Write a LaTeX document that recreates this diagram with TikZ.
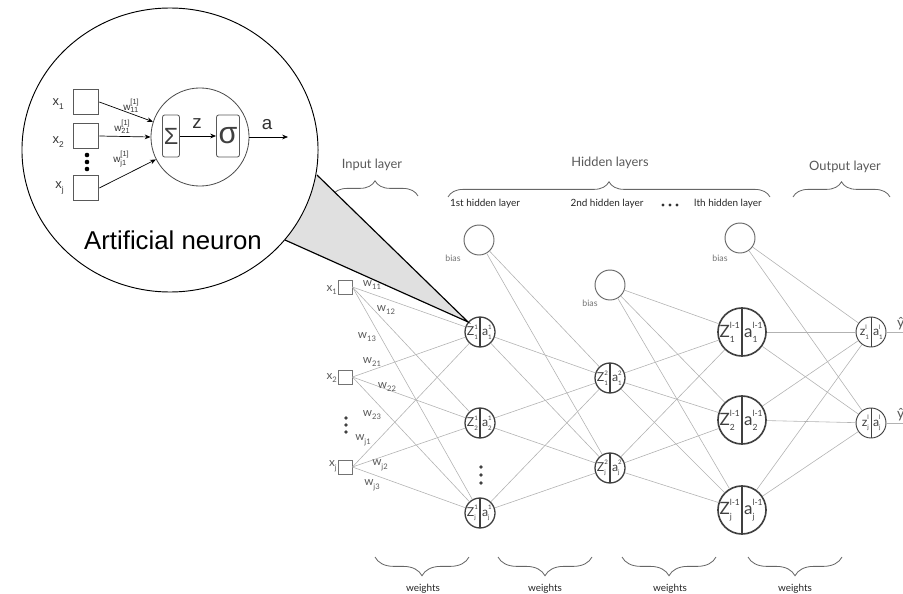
\documentclass[tikz,border=0pt]{standalone}
\usepackage{fontspec}
\setmainfont{Lato}
\newfontfamily\arialfont{Liberation Sans}
\usetikzlibrary{arrows.meta,decorations.pathreplacing,shapes.geometric}
\makeatletter
\def\scrk{0.5}
\newcommand{\scrfont}{\fontsize{\fpeval{\scrk*\f@size}}{0}\selectfont}
\makeatother
% stacked super/subscript
\newcommand{\scr}[2]{\ooalign{\raisebox{.55em}{\scrfont #1}\cr\raisebox{-.27em}{\scrfont #2}}}
% z part | a part, split at the node centre
\newcommand{\za}[5]{\makebox[0pt][r]{#1\scr{#2}{#3}\hspace{1.8pt}}\makebox[0pt][l]{\hspace{1.8pt}a\scr{#4}{#5}}}

\begin{document}
\begin{tikzpicture}[x=0.03cm, y=-0.03cm,
  wire/.style={draw=black!30, line width=0.5pt},
  unit/.style={circle, draw=black!75, line width=1.1pt, minimum size=25.6pt, inner sep=0pt,
    text=black!75, font=\fontsize{10.5}{10.5}\selectfont,
    path picture={\draw (path picture bounding box.north) -- (path picture bounding box.south);}},
  bigunit/.style={unit, line width=1.4pt, minimum size=41pt, font=\fontsize{14.5}{14.5}\selectfont},
  outunit/.style={unit, line width=0.8pt},
  bias/.style={circle, draw=black!60, line width=0.8pt, minimum size=25.6pt, inner sep=0pt},
  inbox/.style={draw=black!55, line width=0.7pt, minimum size=12pt, inner sep=0pt},
  lbl/.style={text=black!65, font=\def\scrk{0.65}\fontsize{10}{10}\selectfont, inner sep=0pt},
  biaslbl/.style={text=black!55, font=\fontsize{7.5}{7.5}\selectfont, inner sep=0pt},
  layer/.style={text=black!65, font=\fontsize{11}{11}\selectfont, inner sep=0pt},
  sublayer/.style={text=black!85, font=\fontsize{8.5}{8.5}\selectfont, inner sep=0pt},
  brc/.style={draw=black!60, line width=0.7pt, decorate, decoration={brace, amplitude=13pt}},
  lowbrc/.style={brc, decoration={brace, amplitude=16pt}},
  insq/.style={draw=black!65, line width=0.7pt, minimum size=22pt, inner sep=0pt},
  opbox/.style={draw=black!65, rounded corners=2pt, line width=0.7pt, minimum width=14.5pt, minimum height=36pt, inner sep=0pt},
  ilbl/.style={font=\def\scrk{0.65}\arialfont\fontsize{11}{11}\selectfont, text=black!80, inner sep=0pt},
  wlbl/.style={font=\def\scrk{0.75}\arialfont\fontsize{8.5}{8.5}\selectfont, text=black!80, inner sep=0pt},
  link/.style={-{Stealth[length=5pt,width=4pt]}, line width=0.6pt}]
\useasboundingbox (0,0) rectangle (903,594);

% layer titles
\node[layer] (inputt) at (372,165) {Input layer};
\node[layer] (hiddent) at (610,163) {Hidden layers};
\node[layer] (outputt) at (845,167) {Output layer};
\node[sublayer] (h1t) at (485,204) {1st hidden layer};
\node[sublayer] (h2t) at (607,204) {2nd hidden layer};
\node[sublayer] (hlt) at (728,204) {lth hidden layer};
\foreach \x in {663,670,677} \fill[black!80] (\x,205) circle (1.6);

\draw[brc] (332,196) -- (418,196);
\draw[brc] (448,197) -- (770,197);
\draw[brc] (793,197) -- (890,197);

% input layer
\node[inbox] (x1) at (345,287) {};
\node[inbox] (x2) at (345,377) {};
\node[inbox] (xj) at (345,467) {};
\node[lbl, anchor=east] (x1t) at (337,290) {x\scr{}{1}};
\node[lbl, anchor=east] (x2t) at (337,378) {x\scr{}{2}};
\node[lbl, anchor=east] (xjt) at (337,466) {x\scr{}{j}};
\foreach \y in {418,425,432} \fill[black!75] (346,\y) circle (1.8);

% hidden and output units
\node[unit] (h11) at (480,332) {\za{Z}{1}{1}{1}{1}};
\node[unit] (h21) at (480,423) {\za{Z}{1}{2}{1}{2}};
\node[unit] (hj1) at (480,513) {\za{Z}{1}{j}{1}{j}};
\foreach \y in {467,475,483} \fill[black!75] (481,\y) circle (1.8);
\node[unit] (h12) at (610,378) {\za{Z}{2}{1}{2}{1}};
\node[unit] (hj2) at (610,468) {\za{Z}{2}{j}{2}{j}};
\node[bigunit] (hl1) at (742,332) {\za{Z}{l-1}{1}{l-1}{1}};
\node[bigunit] (hl2) at (742,420) {\za{Z}{l-1}{2}{l-1}{2}};
\node[bigunit] (hlj) at (742,510) {\za{Z}{l-1}{j}{l-1}{j}};
\node[outunit] (o1) at (871,332) {\za{z}{l}{1}{l}{1}};
\node[outunit] (o2) at (871,423) {\za{z}{l}{j}{l}{j}};

% bias units
\node[bias] (b1) at (479,240) {};
\node[bias] (b2) at (610,285) {};
\node[bias] (bl) at (740,238) {};
\node[biaslbl] (b1t) at (453,258) {bias};
\node[biaslbl] (b2t) at (590,303) {bias};
\node[biaslbl] (blt) at (720,258) {bias};

% connections
\foreach \s in {x1,x2,xj} \foreach \t in {h11,h21,hj1} \draw[wire] (\s.east) -- (\t);
\foreach \s in {b1,h11,h21,hj1} \foreach \t in {h12,hj2} \draw[wire] (\s) -- (\t);
\foreach \s in {b2,h12,hj2} \foreach \t in {hl1,hl2,hlj} \draw[wire] (\s) -- (\t);
\foreach \s in {bl,hl1,hl2,hlj} \foreach \t in {o1,o2} \draw[wire] (\s) -- (\t);
\coordinate (y1) at (903,332);
\coordinate (y2) at (903,423);
\draw[wire] (o1) -- (y1);
\draw[wire] (o2) -- (y2);
\node[lbl, anchor=south west, font=\fontsize{12}{12}\selectfont] (y1t) at (897,330) {\^{y}};
\node[lbl, anchor=south west, font=\fontsize{12}{12}\selectfont] (y2t) at (897,421) {\^{y}};

% weight labels
\node[lbl] (w11) at (372,285) {w\scr{}{11}};
\node[lbl] (w12) at (386,310) {w\scr{}{12}};
\node[lbl] (w13) at (367,337) {w\scr{}{13}};
\node[lbl] (w21) at (372,362) {w\scr{}{21}};
\node[lbl] (w22) at (387,387) {w\scr{}{22}};
\node[lbl] (w23) at (372,415) {w\scr{}{23}};
\node[lbl] (wj1) at (363,440) {w\scr{}{j1}};
\node[lbl] (wj2) at (380,465) {w\scr{}{j2}};
\node[lbl] (wj3) at (372,485) {w\scr{}{j3}};

\draw[lowbrc] (469,557) -- (375,557);
\draw[lowbrc] (592,557) -- (498,557);
\draw[lowbrc] (716,557) -- (622,557);
\draw[lowbrc] (842,557) -- (748,557);
\node[sublayer] (wt1) at (423,589) {weights};
\node[sublayer] (wt2) at (545,589) {weights};
\node[sublayer] (wt3) at (670,589) {weights};
\node[sublayer] (wt4) at (795,589) {weights};

% magnifier
\coordinate (c1) at (317,175);
\coordinate (c2) at (285,240);
\fill[black!12] (c1) -- (h11.140) -- (c2) -- cycle;
\node[ellipse, draw, line width=0.8pt, fill=white, minimum width=252.7pt, minimum height=242.4pt, inner sep=0pt] (lens) at (170,150) {};
\draw[line width=1pt] (c1) -- (h11.140) -- (c2);

% artificial neuron
\node[insq] (in1) at (86,102) {};
\node[insq] (in2) at (86,136) {};
\node[insq] (inj) at (86,188) {};
\node[ilbl, anchor=east] (in1t) at (64,104) {x\scr{}{1}};
\node[ilbl, anchor=east] (in2t) at (64,142) {x\scr{}{2}};
\node[ilbl, anchor=east] (injt) at (64,188) {x\scr{}{j}};
\foreach \y in {155,162,169} \fill (87,\y) circle (2.3);
\node[circle, draw=black!70, line width=0.7pt, minimum size=83.7pt, inner sep=0pt] (cell) at (200,137) {};
\node[opbox, font=\arialfont\fontsize{20}{20}\selectfont, text=black!75] (sum) at (171,136) {Σ};
\node[opbox, minimum width=19.6pt, font=\arialfont\fontsize{26}{26}\selectfont, text=black!75] (act) at (228,136) {σ};
\draw[link] (sum) -- (act);
\node[ilbl, font=\arialfont\fontsize{16}{16}\selectfont] (zt) at (197,124) {z};
\coordinate (aout) at (288,137);
\draw[link] (cell) -- (aout);
\node[ilbl, font=\arialfont\fontsize{16}{16}\selectfont] (at) at (267,125) {a};
\draw[link] (in1.east) -- (cell.162);
\draw[link] (in2.east) -- (cell.180);
\draw[link] (inj.east) -- (cell.207);
\node[wlbl] (wi1) at (131,106) {w\scr{[1]}{11}};
\node[wlbl] (wi2) at (122,127) {w\scr{[1]}{21}};
\node[wlbl] (wij) at (121,159) {w\scr{[1]}{j1}};
\node[font=\arialfont\fontsize{22}{22}\selectfont] (title) at (173,240) {Artificial neuron};
\end{tikzpicture}
\end{document}
